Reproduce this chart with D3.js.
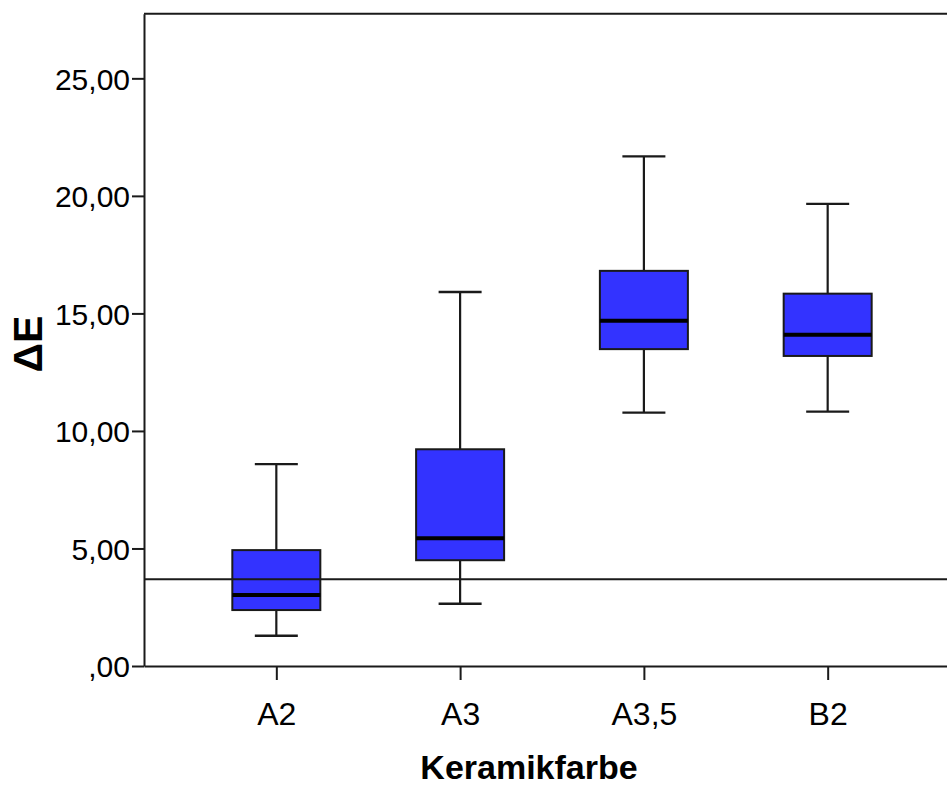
<!DOCTYPE html>
<html>
<head>
<meta charset="utf-8">
<script src="https://cdn.jsdelivr.net/npm/d3@7"></script>
<style>
  html, body { margin: 0; padding: 0; background: #fff; overflow: hidden; }
  svg { display: block; }
  text { font-family: "Liberation Sans", Arial, sans-serif; fill: #000; }
</style>
</head>
<body>
<svg id="chart" width="947" height="785"></svg>
<script>
// ---- Data ----
const categories = ["A2", "A3", "A3,5", "B2"];
const whiskerLow  = [1.29, 2.65, 10.78, 10.82];
const q1          = [2.38, 4.50, 13.48, 13.19];
const median      = [3.02, 5.44, 14.69, 14.09];
const q3          = [4.93, 9.22, 16.81, 15.84];
const whiskerHigh = [8.59, 15.91, 21.68, 19.66];
const referenceValue = 3.69;
const yTicks = [0, 5, 10, 15, 20, 25];
const yMax = 27.75;
const xTitle = "Keramikfarbe";
const yTitle = "ΔE";

(function () {
// ---- Layout ----
const mLeft = 144, mTop = 13.7, mBottom = 666, mRight = 960;

const svg = d3.select("#chart");

const x = d3.scalePoint().domain(categories).range([mLeft, mRight]).padding(0.72);
const y = d3.scaleLinear().domain([0, yMax]).range([mBottom, mTop]);

const lineColor = "#1a1a1a";
const boxFill = "#3333ff";
const boxW = 88, capW = 43;

// frame top line
svg.append("line")
  .attr("x1", mLeft).attr("x2", mRight).attr("y1", mTop).attr("y2", mTop)
  .attr("stroke", lineColor).attr("stroke-width", 2);

// Y axis
const fmt = v => { const s = d3.format(".2f")(v).replace(".", ","); return v === 0 ? s.replace(/^0/, "") : s; };
const yAxis = svg.append("g")
  .attr("transform", `translate(${mLeft},0)`)
  .call(d3.axisLeft(y).tickValues(yTicks).tickFormat(fmt).tickSize(12).tickPadding(2).tickSizeOuter(0));
yAxis.select(".domain").attr("stroke", lineColor).attr("stroke-width", 2);
yAxis.selectAll(".tick line").attr("stroke", lineColor).attr("stroke-width", 2);
yAxis.selectAll(".tick text").attr("font-size", 30).attr("font-family", "Liberation Sans, Arial, sans-serif").attr("fill", "#000").attr("dy", "0.36em");

// X axis
const xAxis = svg.append("g")
  .attr("transform", `translate(0,${mBottom})`)
  .call(d3.axisBottom(x).tickSize(14).tickPadding(22).tickSizeOuter(0));
xAxis.select(".domain").attr("stroke", lineColor).attr("stroke-width", 2);
xAxis.selectAll(".tick line").attr("stroke", lineColor).attr("stroke-width", 2);
xAxis.selectAll(".tick text").attr("font-size", 32).attr("font-family", "Liberation Sans, Arial, sans-serif").attr("fill", "#000");

// Boxes
const data = categories.map((c, i) => ({ c, lo: whiskerLow[i], q1: q1[i], med: median[i], q3: q3[i], hi: whiskerHigh[i] }));
const g = svg.append("g");
const bx = g.selectAll("g.box").data(data).join("g").attr("class", "box");

// whiskers
bx.append("line").attr("x1", d => x(d.c)).attr("x2", d => x(d.c))
  .attr("y1", d => y(d.hi)).attr("y2", d => y(d.q3)).attr("stroke", lineColor).attr("stroke-width", 2.2);
bx.append("line").attr("x1", d => x(d.c)).attr("x2", d => x(d.c))
  .attr("y1", d => y(d.q1)).attr("y2", d => y(d.lo)).attr("stroke", lineColor).attr("stroke-width", 2.2);
bx.append("line").attr("x1", d => x(d.c) - capW / 2).attr("x2", d => x(d.c) + capW / 2)
  .attr("y1", d => y(d.hi)).attr("y2", d => y(d.hi)).attr("stroke", lineColor).attr("stroke-width", 2.4);
bx.append("line").attr("x1", d => x(d.c) - capW / 2).attr("x2", d => x(d.c) + capW / 2)
  .attr("y1", d => y(d.lo)).attr("y2", d => y(d.lo)).attr("stroke", lineColor).attr("stroke-width", 2.4);

// box
bx.append("rect")
  .attr("x", d => x(d.c) - boxW / 2).attr("width", boxW)
  .attr("y", d => y(d.q3)).attr("height", d => y(d.q1) - y(d.q3))
  .attr("fill", boxFill).attr("stroke", lineColor).attr("stroke-width", 2);

// median
bx.append("line").attr("x1", d => x(d.c) - boxW / 2).attr("x2", d => x(d.c) + boxW / 2)
  .attr("y1", d => y(d.med)).attr("y2", d => y(d.med)).attr("stroke", "#000").attr("stroke-width", 4);

// reference line
svg.append("line")
  .attr("x1", mLeft).attr("x2", mRight)
  .attr("y1", y(referenceValue)).attr("y2", y(referenceValue))
  .attr("stroke", lineColor).attr("stroke-width", 2);

// titles
svg.append("text").attr("x", 529).attr("y", 779)
  .attr("text-anchor", "middle").attr("font-size", 34).attr("font-weight", "bold").text(xTitle);
svg.append("text").attr("transform", "translate(42,344) rotate(-90)")
  .attr("text-anchor", "middle").attr("font-size", 41).attr("font-weight", "bold").text(yTitle);
})();
</script>
</body>
</html>
